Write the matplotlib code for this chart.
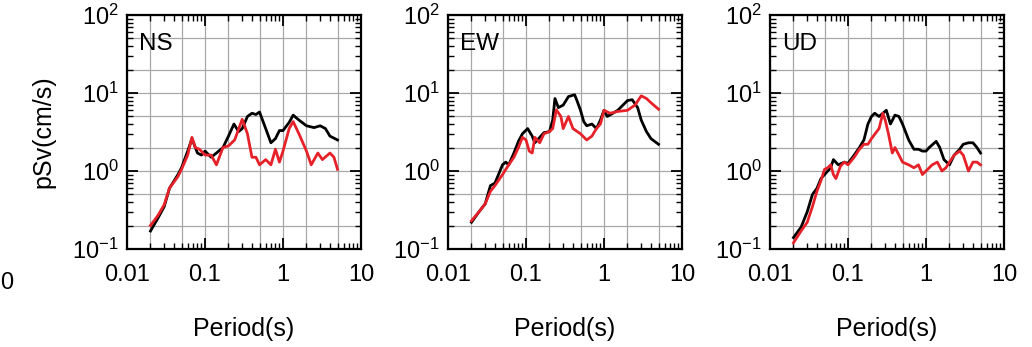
import numpy as np
import matplotlib
matplotlib.use("Agg")
from matplotlib import pyplot as plt
import matplotlib.ticker as ticker

plt.rcParams['font.family'] = ['Liberation Sans', 'DejaVu Sans']
plt.rcParams['mathtext.fontset'] = 'custom'
plt.rcParams['mathtext.rm'] = 'Liberation Sans'
plt.rcParams['mathtext.it'] = 'Liberation Sans:italic'

# NS component
ns_t_black = [0.02, 0.025, 0.03, 0.035, 0.045, 0.05, 0.06, 0.068, 0.08, 0.09, 0.1, 0.12, 0.14,
              0.17, 0.2, 0.235, 0.27, 0.3, 0.35, 0.4, 0.45, 0.5, 0.6, 0.7, 0.8, 0.9, 1.0, 1.2,
              1.35, 1.6, 2.0, 2.5, 3.0, 3.5, 4.0, 5.0]
ns_v_black = [0.17, 0.25, 0.35, 0.6, 0.9, 1.1, 1.8, 2.6, 1.7, 1.6, 1.8, 1.5, 1.7,
              2.0, 2.8, 4.0, 3.2, 3.5, 5.0, 5.5, 5.3, 5.7, 3.5, 2.3, 2.6, 3.3, 3.3, 4.2,
              5.2, 4.5, 3.8, 3.6, 3.8, 3.5, 2.8, 2.5]
ns_t_red = [0.02, 0.025, 0.03, 0.035, 0.045, 0.05, 0.06, 0.068, 0.075, 0.085, 0.1, 0.12, 0.14,
            0.17, 0.2, 0.24, 0.3, 0.35, 0.4, 0.45, 0.5, 0.6, 0.7, 0.8, 0.9, 1.0, 1.2, 1.35,
            1.6, 2.0, 2.3, 2.8, 3.2, 4.0, 4.5, 5.0]
ns_v_red = [0.2, 0.27, 0.37, 0.6, 0.85, 1.05, 1.6, 2.7, 2.0, 1.9, 1.6, 1.6, 1.2,
            2.0, 2.1, 2.5, 4.6, 3.0, 1.5, 1.5, 1.2, 1.4, 1.2, 1.9, 1.3, 1.8, 3.5, 4.3,
            3.0, 1.8, 1.2, 1.7, 1.4, 1.7, 1.5, 1.05]

# EW component
ew_t_black = [0.02, 0.025, 0.03, 0.035, 0.04, 0.05, 0.055, 0.06, 0.07, 0.08, 0.09, 0.105, 0.12,
              0.13, 0.15, 0.17, 0.2, 0.22, 0.235, 0.26, 0.3, 0.35, 0.42, 0.45, 0.5, 0.55, 0.6,
              0.7, 0.8, 0.9, 1.0, 1.1, 1.3, 1.5, 2.0, 2.3, 2.7, 3.0, 3.5, 4.0, 5.0]
ew_v_black = [0.22, 0.3, 0.38, 0.65, 0.7, 1.2, 1.3, 1.2, 1.7, 2.4, 3.0, 3.5, 2.8,
              2.3, 2.7, 3.1, 3.2, 4.5, 8.5, 6.5, 7.0, 9.0, 9.5, 8.0, 6.0, 4.3, 3.8,
              4.0, 3.5, 4.5, 6.0, 5.0, 5.5, 6.0, 8.0, 8.2, 6.5, 4.5, 3.2, 2.6, 2.2]
ew_t_red = [0.02, 0.025, 0.03, 0.035, 0.04, 0.05, 0.06, 0.07, 0.08, 0.09, 0.1, 0.11, 0.12,
            0.13, 0.15, 0.17, 0.2, 0.22, 0.245, 0.28, 0.3, 0.35, 0.4, 0.5, 0.6, 0.7, 0.8,
            0.9, 1.0, 1.2, 1.5, 2.0, 2.5, 3.0, 3.5, 4.0, 5.0]
ew_v_red = [0.23, 0.3, 0.38, 0.55, 0.65, 0.9, 1.2, 1.5, 2.0, 2.7, 2.5, 1.8, 1.7,
            2.7, 2.3, 3.0, 3.2, 3.5, 6.1, 5.0, 3.5, 5.0, 3.5, 3.0, 2.5, 2.8, 3.5,
            4.0, 6.0, 5.5, 5.8, 6.0, 7.0, 9.2, 8.5, 7.5, 6.2]

# UD component
ud_t_black = [0.02, 0.025, 0.03, 0.035, 0.04, 0.045, 0.05, 0.06, 0.065, 0.075, 0.09, 0.1, 0.12,
              0.14, 0.16, 0.18, 0.2, 0.22, 0.25, 0.28, 0.31, 0.35, 0.4, 0.45, 0.5, 0.6, 0.7,
              0.8, 0.9, 1.0, 1.1, 1.35, 1.5, 1.7, 2.0, 2.3, 2.7, 3.0, 3.5, 4.0, 4.5, 5.0]
ud_v_black = [0.14, 0.19, 0.3, 0.5, 0.6, 0.8, 0.9, 1.1, 1.4, 1.2, 1.3, 1.25, 1.6,
              2.0, 2.5, 4.0, 5.0, 5.5, 5.0, 5.5, 6.0, 4.0, 5.2, 5.0, 4.0, 2.5, 1.9,
              1.9, 1.8, 1.8, 2.0, 2.4, 2.0, 1.4, 1.2, 1.6, 1.9, 2.2, 2.3, 2.3, 2.0, 1.7]
ud_t_red = [0.02, 0.025, 0.03, 0.035, 0.04, 0.045, 0.05, 0.055, 0.06, 0.065, 0.07, 0.08, 0.09,
            0.1, 0.12, 0.14, 0.16, 0.18, 0.2, 0.25, 0.28, 0.3, 0.33, 0.37, 0.4, 0.45, 0.5,
            0.6, 0.7, 0.8, 0.9, 1.0, 1.2, 1.4, 1.6, 1.8, 2.0, 2.3, 2.7, 3.0, 3.5, 4.0, 4.5, 5.0]
ud_v_red = [0.12, 0.17, 0.22, 0.35, 0.55, 0.75, 1.05, 1.1, 1.2, 0.9, 0.8, 1.15, 1.3,
            1.2, 1.5, 1.9, 2.2, 2.2, 2.6, 3.5, 5.5, 4.5, 3.0, 1.7, 2.0, 1.6, 1.3,
            1.2, 1.1, 1.2, 0.9, 1.0, 1.2, 1.3, 1.0, 1.1, 1.3, 1.6, 1.8, 1.6, 1.0, 1.3, 1.3, 1.2]

labels = ['NS', 'EW', 'UD']
xticks = [0.01, 0.1, 1, 10]
grid_vals = [0.01, 0.02, 0.05, 0.1, 0.2, 0.5, 1, 2, 5, 10]
grid_vals_y = [0.1, 0.2, 0.5, 1, 2, 5, 10, 20, 50, 100]

red = '#e62129'

fig = plt.figure(figsize=(10.32, 3.47), dpi=100)
lefts = [127/1032, 448/1032, 770/1032]
data = [(ns_t_black, ns_v_black, ns_t_red, ns_v_red),
        (ew_t_black, ew_v_black, ew_t_red, ew_v_red),
        (ud_t_black, ud_v_black, ud_t_red, ud_v_red)]

for i in range(3):
    ax = fig.add_axes([lefts[i], 98/347, 234/1032, 234/347])
    tb, vb, tr, vr = data[i]
    for g in grid_vals:
        ax.axvline(g, color='#a8a8a8', lw=0.9, zorder=0)
    for g in grid_vals_y:
        ax.axhline(g, color='#a8a8a8', lw=0.9, zorder=0)
    ax.plot(tb, vb, color='black', lw=2.0, zorder=3)
    ax.plot(tr, vr, color=red, lw=2.0, zorder=4)
    ax.set_xscale('log')
    ax.set_yscale('log')
    ax.set_xlim(0.01, 10)
    ax.set_ylim(0.1, 100)
    ax.set_xticks(xticks)
    ax.xaxis.set_major_formatter(ticker.FuncFormatter(lambda v, p: '%g' % v))
    ax.xaxis.set_minor_formatter(ticker.NullFormatter())
    ax.yaxis.set_minor_formatter(ticker.NullFormatter())
    ax.tick_params(which='both', direction='in', top=True, right=True, labelsize=17)
    ax.tick_params(which='major', length=8, width=1.3)
    ax.tick_params(which='minor', length=4.5, width=1.0)
    ax.tick_params(axis='x', pad=11)
    ax.tick_params(axis='y', pad=6)
    for s in ax.spines.values():
        s.set_linewidth(1.6)
    ax.set_xlabel('Period(s)', fontsize=18, labelpad=22)
    if i == 0:
        ax.set_ylabel('pSv(cm/s)', fontsize=18, labelpad=12)
    ax.text(0.05, 0.875, labels[i], transform=ax.transAxes, fontsize=17.5, va='center', ha='left')

# tick label remnant of a neighbouring panel at the left edge
fig.text(0, 1 - 283/347, '0', fontsize=17, ha='left', va='center')

plt.savefig('out.png', dpi=100)
